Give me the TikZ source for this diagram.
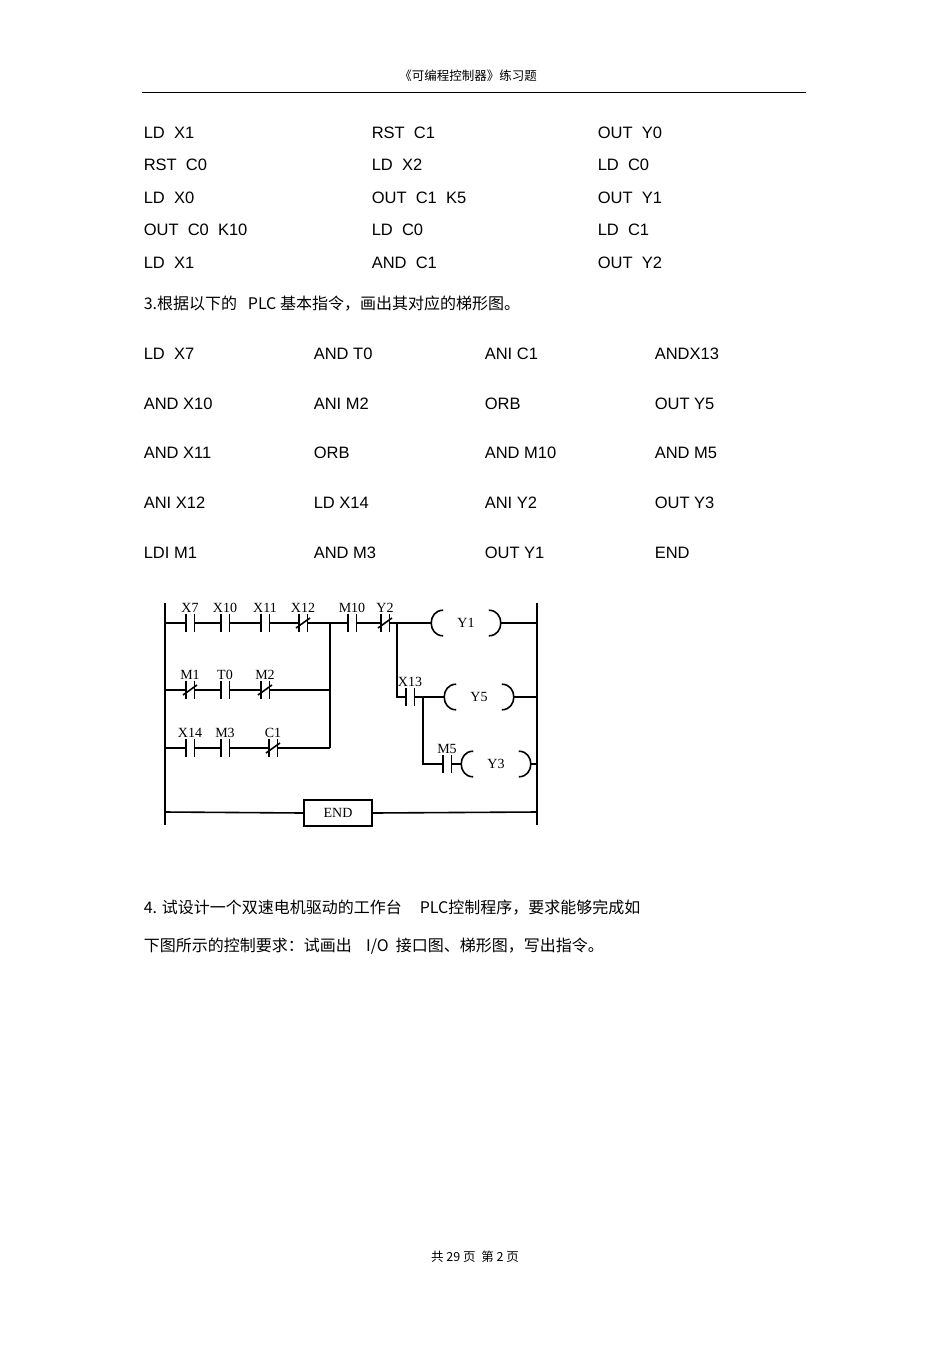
\documentclass[tikz,border=0pt]{standalone}
\usepackage{fontspec}
\setmainfont{Liberation Sans}
\newfontfamily\cjk{Noto Sans CJK SC}
\newfontfamily\lad{Liberation Serif}
\begin{document}
\begin{tikzpicture}[x=1pt,y=-1pt,line width=1.6pt,
  txt/.style={anchor=west,inner sep=0,font=\fontsize{16.5}{17}\selectfont},
  ctxt/.style={anchor=west,inner sep=0,font=\cjk\fontsize{16}{17}\selectfont},
  lbl/.style={font=\lad\fontsize{14}{14}\selectfont,inner sep=0.5pt},
  no/.style={minimum width=7pt,minimum height=17pt,inner sep=0,
    label={[lbl]above:#1},
    append after command={(\tikzlastnode.north west) edge (\tikzlastnode.south west)
      (\tikzlastnode.north east) edge (\tikzlastnode.south east)}},
  nc/.style={no=#1,append after command={([xshift=-7pt,yshift=-5pt]\tikzlastnode.center) edge ([xshift=7pt,yshift=5pt]\tikzlastnode.center)}},
  coil/.style={minimum width=68pt,minimum height=24pt,inner sep=0,font=\lad\fontsize{14}{14}\selectfont,
    append after command={([xshift=12pt]\tikzlastnode.north west) edge[to path={.. controls ([xshift=-16pt]\tikztostart) and ([xshift=-16pt]\tikztotarget) .. (\tikztotarget)}] ([xshift=12pt]\tikzlastnode.south west)
      ([xshift=-12pt]\tikzlastnode.north east) edge[to path={.. controls ([xshift=16pt]\tikztostart) and ([xshift=16pt]\tikztotarget) .. (\tikztotarget)}] ([xshift=-12pt]\tikzlastnode.south east)}}]
\useasboundingbox (0,0) rectangle (950,1345);
\fill[white] (0,0) rectangle (950,1345);
% header
\node[font=\cjk\fontsize{12.5}{13}\selectfont,inner sep=0] (hdr) at (468,76) {《可编程控制器》练习题};
\draw[line width=0.6pt] (142,92) coordinate (h1) -- (806,92) coordinate (h2);
% block 1
\node[txt] (a1) at (143,133) {LD\ \ X1};
\node[txt] (a2) at (143,165) {RST\ \ C0};
\node[txt] (a3) at (143,198) {LD\ \ X0};
\node[txt] (a4) at (143,230) {OUT\ \ C0\ \ K10};
\node[txt] (a5) at (143,263) {LD\ \ X1};
\node[txt] (b1) at (371,133) {RST\ \ C1};
\node[txt] (b2) at (371,165) {LD\ \ X2};
\node[txt] (b3) at (371,198) {OUT\ \ C1\ \ K5};
\node[txt] (b4) at (371,230) {LD\ \ C0};
\node[txt] (b5) at (371,263) {AND\ \ C1};
\node[txt] (c1t) at (597,133) {OUT\ \ Y0};
\node[txt] (c2t) at (597,165) {LD\ \ C0};
\node[txt] (c3t) at (597,198) {OUT\ \ Y1};
\node[txt] (c4t) at (597,230) {LD\ \ C1};
\node[txt] (c5t) at (597,263) {OUT\ \ Y2};
\node[ctxt] (q3) at (143,304) {3.根据以下的\ \ \ PLC 基本指令，画出其对应的梯形图。};
% block 2
\node[txt] (d1) at (143,354) {LD\ \ X7};
\node[txt] (d2) at (143,404) {AND X10};
\node[txt] (d3) at (143,453) {AND X11};
\node[txt] (d4) at (143,503) {ANI X12};
\node[txt] (d5) at (143,553) {LDI M1};
\node[txt] (e1) at (313,354) {AND T0};
\node[txt] (e2) at (313,404) {ANI M2};
\node[txt] (e3) at (313,453) {ORB};
\node[txt] (e4) at (313,503) {LD X14};
\node[txt] (e5) at (313,553) {AND M3};
\node[txt] (f1) at (484,354) {ANI C1};
\node[txt] (f2) at (484,404) {ORB};
\node[txt] (f3) at (484,453) {AND M10};
\node[txt] (f4) at (484,503) {ANI Y2};
\node[txt] (f5) at (484,553) {OUT Y1};
\node[txt] (g1) at (654,354) {ANDX13};
\node[txt] (g2) at (654,404) {OUT Y5};
\node[txt] (g3) at (654,453) {AND M5};
\node[txt] (g4) at (654,503) {OUT Y3};
\node[txt] (g5) at (654,553) {END};
% ladder
\coordinate (LT) at (165,603); \coordinate (LB) at (165,825);
\coordinate (RT) at (537,603); \coordinate (RB) at (537,825);
\draw (LT) -- (LB); \draw (RT) -- (RB);
\coordinate (L1) at (165,623); \coordinate (L2) at (165,690); \coordinate (L3) at (165,748); \coordinate (L4) at (165,812);
\coordinate (J1) at (330,623); \coordinate (J2) at (330,690); \coordinate (J3) at (330,748);
\coordinate (B1) at (397,623); \coordinate (B2) at (397,697); \coordinate (B3) at (423,697); \coordinate (B4) at (423,764);
\coordinate (R1) at (537,623); \coordinate (R2) at (537,697); \coordinate (R3) at (537,764); \coordinate (R4) at (537,812);
\node[no=X7] (x7) at (190,623) {};
\node[no=X10] (x10) at (225,623) {};
\node[no=X11] (x11) at (265,623) {};
\node[nc=X12] (x12) at (303,623) {};
\node[no=M10] (m10) at (352,623) {};
\node[nc=Y2] (y2) at (385,623) {};
\node[coil] (y1) at (466,623) {Y1};
\node[nc=M1] (m1) at (190,690) {};
\node[no=T0] (t0) at (225,690) {};
\node[nc=M2] (m2) at (265,690) {};
\node[no=X14] (x14) at (190,748) {};
\node[no=M3] (m3) at (225,748) {};
\node[nc=C1] (c1) at (273,748) {};
\node[no=X13] (x13) at (410,697) {};
\node[coil] (y5) at (479,697) {Y5};
\node[no=M5] (m5) at (447,764) {};
\node[coil] (y3) at (496,764) {Y3};
\node[draw,minimum width=68pt,minimum height=26pt,inner sep=0,font=\lad\fontsize{14}{14}\selectfont] (end) at (338,813) {END};
\draw (L1) -- (x7.west) (x7.east) -- (x10.west) (x10.east) -- (x11.west) (x11.east) -- (x12.west)
  (x12.east) -- (J1) -- (m10.west) (m10.east) -- (y2.west) (y2.east) -- (B1) -- (y1.west) (y1.east) -- (R1);
\draw (L2) -- (m1.west) (m1.east) -- (t0.west) (t0.east) -- (m2.west) (m2.east) -- (J2);
\draw (L3) -- (x14.west) (x14.east) -- (m3.west) (m3.east) -- (c1.west) (c1.east) -- (J3);
\draw (J1) -- (J2) -- (J3);
\draw (B1) -- (B2) -- (x13.west) (x13.east) -- (B3) -- (y5.west) (y5.east) -- (R2);
\draw (B3) -- (B4) -- (m5.west) (m5.east) -- (y3.west) (y3.east) -- (R3);
\draw (L4) -- (end.west) (end.east) -- (R4);
% question 4
\node[ctxt] (q4a) at (143,908) {4. 试设计一个双速电机驱动的工作台\ \ \ \ \ PLC控制程序，要求能够完成如};
\node[ctxt] (q4b) at (143,946) {下图所示的控制要求：试画出\ \ \ \ I/O\ \ 接口图、梯形图，写出指令。};
\node[font=\cjk\fontsize{12.5}{13}\selectfont,inner sep=0] (ftr) at (475,1257) {共 29 页\ \ 第 2 页};
\end{tikzpicture}
\end{document}
